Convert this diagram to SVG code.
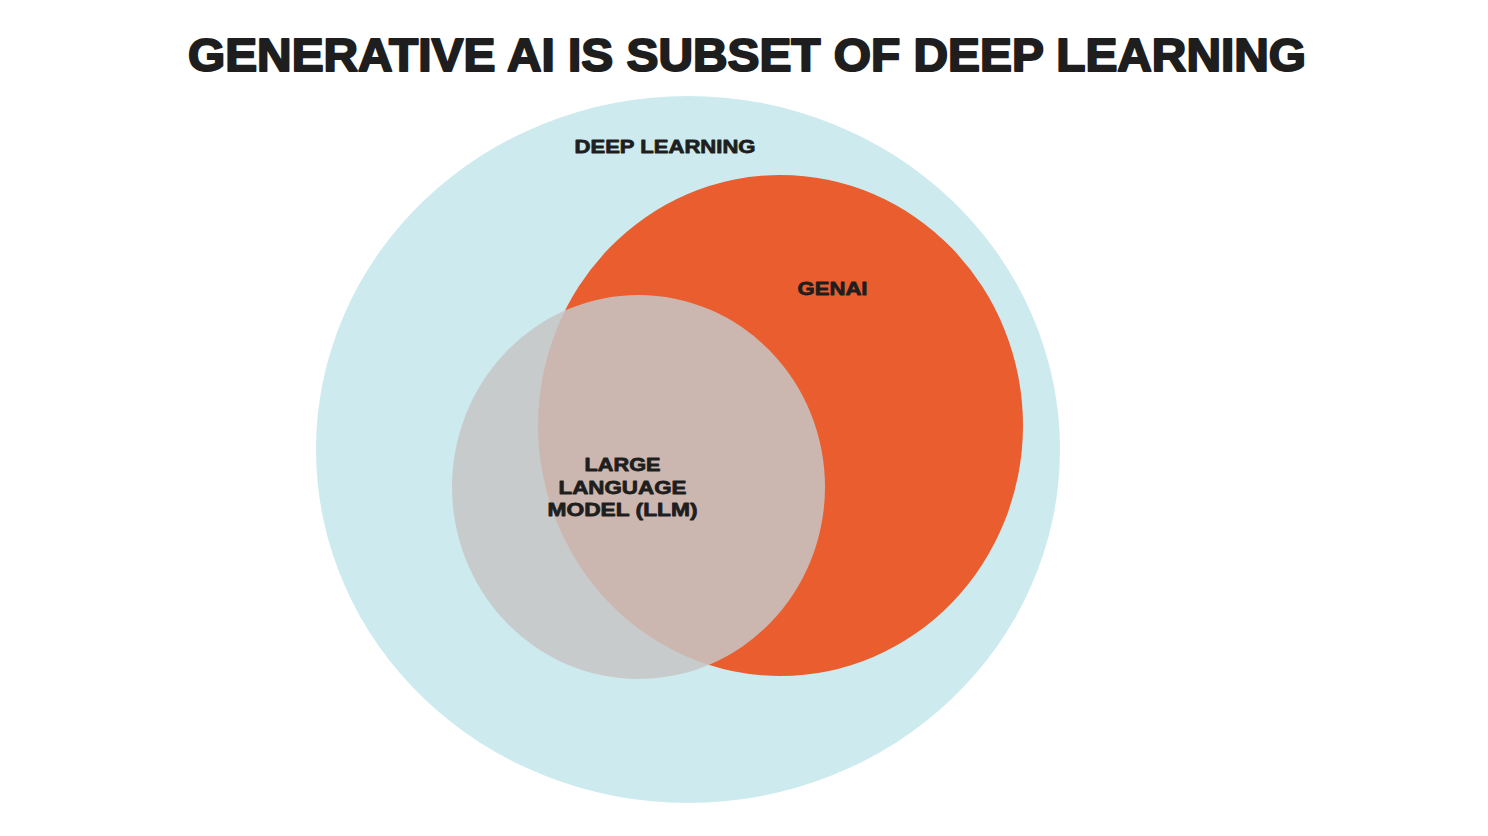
<svg xmlns="http://www.w3.org/2000/svg" width="1488" height="836" viewBox="0 0 1488 836">
<style>
text{font-family:"Liberation Sans",Arial,sans-serif;font-weight:bold;fill:#1e1e1e;stroke:#1e1e1e;text-anchor:middle;stroke-linejoin:round}
.title{font-size:46px;stroke-width:2}
.lbl{font-size:19px;stroke-width:0.8}
</style>
<rect width="1488" height="836" fill="#ffffff"/>
<text class="title" x="747" y="71" textLength="1118" lengthAdjust="spacingAndGlyphs">GENERATIVE AI IS SUBSET OF DEEP LEARNING</text>
<g id="deep-learning">
<ellipse cx="688" cy="449.5" rx="372" ry="353.5" fill="#cdebee"/>
<text class="lbl" x="665" y="153" textLength="181" lengthAdjust="spacingAndGlyphs">DEEP LEARNING</text>
</g>
<g id="genai">
<ellipse cx="780.5" cy="425.5" rx="242.5" ry="250.5" fill="#e95d2e"/>
<text class="lbl" x="832.5" y="295" textLength="70" lengthAdjust="spacingAndGlyphs">GENAI</text>
</g>
<g id="llm">
<ellipse cx="638.5" cy="487" rx="186.5" ry="192" fill="#c7c6c6" fill-opacity="0.86"/>
<text class="lbl" x="622.5" y="471" textLength="76" lengthAdjust="spacingAndGlyphs">LARGE</text>
<text class="lbl" x="622.5" y="493.5" textLength="128" lengthAdjust="spacingAndGlyphs">LANGUAGE</text>
<text class="lbl" x="622.5" y="516" textLength="150" lengthAdjust="spacingAndGlyphs">MODEL (LLM)</text>
</g>
<g id="connectors"/>
</svg>
